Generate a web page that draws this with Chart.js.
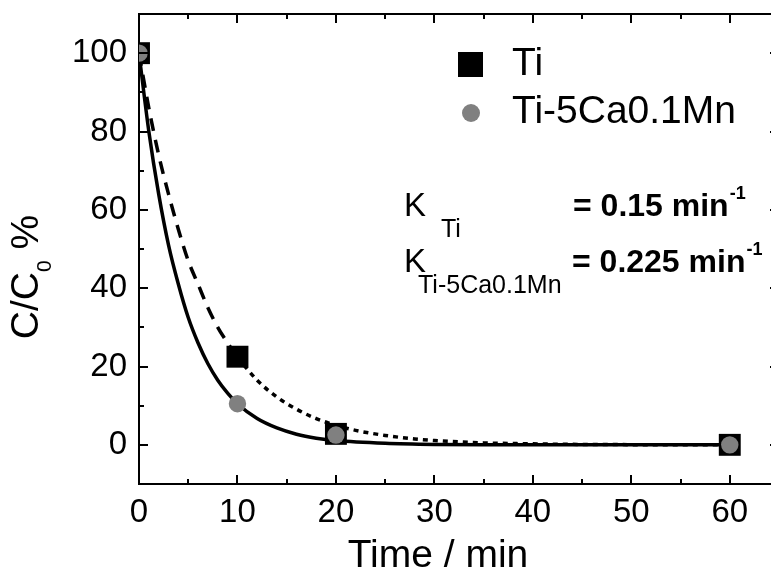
<!DOCTYPE html>
<html>
<head>
<meta charset="utf-8">
<script src="https://cdn.jsdelivr.net/npm/chart.js@4"></script>
<style>
html, body { margin: 0; padding: 0; background: #fff; overflow: hidden; }
#wrap { width: 771px; height: 574px; overflow: hidden; }
</style>
</head>
<body>
<div id="wrap"><canvas id="myChart" width="781" height="574"></canvas></div>
<script>
// measured points (time in min, C/C0 in %)
const timeMeas = [0, 10, 20, 60];
const tiMeas = [100, 22.5, 2.8, 0];
const mnMeas = [100, 10.5, 2.5, 0];

// fitted curves
const fitMnT = [0, 1, 2, 3, 4, 5, 6, 7, 8, 9, 10, 12, 14, 16, 18, 20, 25, 30, 35, 40, 50, 60];
const fitMnC = [100, 80, 64, 51, 41, 32.5, 26, 20.7, 16.5, 13.2, 10.5, 6.7, 4.3, 2.7, 1.7, 1.1, 0.4, 0.1, 0, 0, 0, 0];
const fitTiT1 = [0, 1, 2, 3, 4, 5, 6, 7, 8, 9, 10];
const fitTiC1 = [100, 86, 74, 64, 55, 47, 41, 35, 30, 26, 22.3];
const fitTiT2 = [10, 12, 14, 16, 18, 20, 22, 25, 28, 30, 35, 40, 45, 50, 60];
const fitTiC2 = [22.3, 16.5, 12.2, 9.1, 6.7, 5, 3.7, 2.4, 1.5, 1.1, 0.5, 0.25, 0.1, 0.05, 0];

const xTicks = [0, 10, 20, 30, 40, 50, 60];
const xMinor = [5, 15, 25, 35, 45, 55];
const yTicks = [0, 20, 40, 60, 80, 100];
const yMinor = [10, 30, 50, 70, 90];

const FONT = 'Liberation Sans, Arial, sans-serif';
const pts = (xs, ys) => xs.map((x, i) => ({ x: x, y: ys[i] }));

function txt(ctx, s, x, y, font, align) {
    ctx.font = font;
    ctx.textAlign = align || 'left';
    ctx.textBaseline = 'alphabetic';
    ctx.fillText(s, x, y);
    return ctx.measureText(s).width;
}

// frame, inward ticks, titles, legend and rate constants
const extras = {
    id: 'extras',
    afterDraw(chart) {
        const ctx = chart.ctx;
        const a = chart.chartArea;
        const xs = chart.scales.x, ys = chart.scales.y;
        ctx.save();
        ctx.strokeStyle = '#000';
        ctx.fillStyle = '#000';
        ctx.lineWidth = 2;
        ctx.beginPath();
        ctx.moveTo(a.left - 1, a.top);
        ctx.lineTo(a.right, a.top);
        ctx.moveTo(a.right, a.top);
        ctx.lineTo(a.right, a.bottom);
        ctx.stroke();

        ctx.beginPath();
        const tick = (vals, len) => {
            vals.forEach(v => {
                const px = Math.round(xs.getPixelForValue(v));
                ctx.moveTo(px, a.bottom); ctx.lineTo(px, a.bottom - len);
                ctx.moveTo(px, a.top); ctx.lineTo(px, a.top + len);
            });
        };
        const tickY = (vals, len) => {
            vals.forEach(v => {
                const py = Math.round(ys.getPixelForValue(v));
                ctx.moveTo(a.left, py); ctx.lineTo(a.left + len, py);
                ctx.moveTo(a.right, py); ctx.lineTo(a.right - len, py);
            });
        };
        tick(xTicks, 9); tick(xMinor, 5);
        tickY(yTicks, 9); tickY(yMinor, 5);
        ctx.stroke();

        // x title
        txt(ctx, 'Time / min', 438, 567, '39px ' + FONT, 'center');

        // y title with subscript
        ctx.save();
        ctx.translate(38, 277);
        ctx.rotate(-Math.PI / 2);
        ctx.font = '39px ' + FONT;
        const w1 = ctx.measureText('C/C').width;
        const w3 = ctx.measureText(' %').width;
        ctx.font = '21px ' + FONT;
        const w2 = ctx.measureText('0').width;
        let sx = -(w1 + w2 + w3) / 2;
        sx += txt(ctx, 'C/C', sx, 0, '39px ' + FONT);
        sx += txt(ctx, '0', sx, 13, '21px ' + FONT);
        txt(ctx, ' %', sx, 0, '39px ' + FONT);
        ctx.restore();

        // legend
        ctx.fillStyle = '#000';
        ctx.fillRect(458, 52, 25, 25);
        ctx.fillStyle = '#808080';
        ctx.beginPath();
        ctx.arc(471, 113, 9, 0, Math.PI * 2);
        ctx.fill();
        ctx.fillStyle = '#000';
        txt(ctx, 'Ti', 512, 75, '39px ' + FONT);
        txt(ctx, 'Ti-5Ca0.1Mn', 512, 123, '39px ' + FONT);

        // rate constants
        txt(ctx, 'K', 404, 216, '33px ' + FONT);
        txt(ctx, 'Ti', 441, 237, '25px ' + FONT);
        let bx = 573;
        bx += txt(ctx, '= 0.15 min', bx, 216, 'bold 32px ' + FONT);
        txt(ctx, '-1', bx + 1, 199, 'bold 18px ' + FONT);

        txt(ctx, 'K', 404, 272, '33px ' + FONT);
        txt(ctx, 'Ti-5Ca0.1Mn', 418, 293, '25px ' + FONT);
        bx = 572;
        bx += txt(ctx, '= 0.225 min', bx, 272, 'bold 32px ' + FONT);
        txt(ctx, '-1', bx + 1, 255, 'bold 18px ' + FONT);
        ctx.restore();
    }
};

const ctx = document.getElementById('myChart').getContext('2d');
const myChart = new Chart(ctx, {
    type: 'scatter',
    data: {
        datasets: [
            {
                label: 'Ti-5Ca0.1Mn fit',
                data: pts(fitMnT, fitMnC),
                showLine: true,
                pointRadius: 0,
                borderColor: '#000',
                borderWidth: 3.5,
                cubicInterpolationMode: 'monotone',
                order: 5
            },
            {
                label: 'Ti fit',
                data: pts(fitTiT1, fitTiC1),
                showLine: true,
                pointRadius: 0,
                borderColor: '#000',
                borderWidth: 3.5,
                borderDash: [13, 9],
                cubicInterpolationMode: 'monotone',
                order: 4
            },
            {
                label: 'Ti fit tail',
                data: pts(fitTiT2, fitTiC2),
                showLine: true,
                pointRadius: 0,
                borderColor: '#000',
                borderWidth: 3.5,
                borderDash: [5, 5],
                cubicInterpolationMode: 'monotone',
                order: 4
            },
            {
                label: 'Ti',
                data: pts(timeMeas, tiMeas),
                pointStyle: 'rect',
                pointRadius: 15.5,
                backgroundColor: '#000',
                borderWidth: 0,
                order: 2
            },
            {
                label: 'Ti-5Ca0.1Mn',
                data: pts(timeMeas, mnMeas),
                pointStyle: 'circle',
                pointRadius: 8.7,
                backgroundColor: '#808080',
                borderWidth: 0,
                order: 1
            }
        ]
    },
    options: {
        responsive: false,
        animation: false,
        devicePixelRatio: 1,
        layout: { autoPadding: false, padding: { top: 14, right: 2, left: 0, bottom: 0 } },
        plugins: {
            legend: { display: false },
            tooltip: { enabled: false }
        },
        scales: {
            x: {
                type: 'linear',
                min: 0,
                max: 65,
                afterBuildTicks: s => { s.ticks = xTicks.map(v => ({ value: v })); },
                afterFit: s => { s.height = 90; s.paddingLeft = 0; s.paddingRight = 0; },
                grid: { display: false, drawTicks: false },
                border: { display: true, color: '#000', width: 2 },
                ticks: {
                    color: '#000',
                    padding: 9,
                    maxRotation: 0,
                    autoSkip: false,
                    font: { family: FONT, size: 33 }
                }
            },
            y: {
                type: 'linear',
                min: -10,
                max: 110,
                afterBuildTicks: s => { s.ticks = yTicks.map(v => ({ value: v })); },
                afterFit: s => { s.width = 139; s.paddingTop = 0; s.paddingBottom = 0; },
                grid: { display: false, drawTicks: false },
                border: { display: true, color: '#000', width: 2 },
                ticks: {
                    color: '#000',
                    padding: 12,
                    autoSkip: false,
                    font: { family: FONT, size: 33 }
                }
            }
        }
    },
    plugins: [extras]
});
</script>
</body>
</html>
